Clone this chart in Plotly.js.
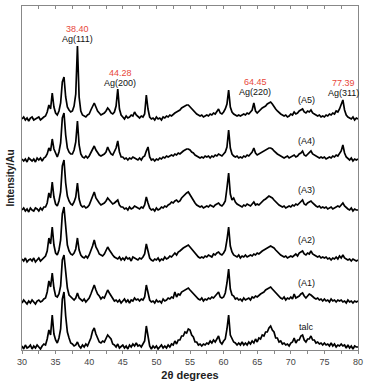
<!DOCTYPE html>
<html>
<head>
<meta charset="utf-8">
<script src="https://cdn.plot.ly/plotly-3.0.1.min.js"></script>
<style>html,body{margin:0;padding:0;background:#fff;}#chart{width:366px;height:382px;}</style>
</head>
<body>
<div id="chart"></div>
<script>
// 2-theta sampling of the patterns (degrees)
const twoThetaStart = 30;
const twoThetaStep = 0.25;

// Series names (bottom to top) and their stacking offsets (arbitrary units)
const seriesNames = ["talc", "(A1)", "(A2)", "(A3)", "(A4)", "(A5)"];
const offsets = [3, 48, 90, 140, 190, 231];

// Intensities, 30..80 deg every 0.25 deg (arbitrary units)
const talc = [
 1,-2,2,-1,0,2,-2,1,-1,2,
 0,-2,1,3,2,8,17,12,32,13,
 7,4,9,18,48,55,31,15,9,4,
 3,1,2,5,1,-1,2,0,3,1,
 5,9,16,19,13,9,5,4,6,5,
 9,12,10,8,3,2,0,3,-1,1,
 2,-1,1,-2,2,0,3,1,4,1,
 2,0,3,6,21,11,1,-2,1,-1,
 1,-2,0,2,-1,1,-1,2,0,3,
 2,6,3,7,7,11,11,15,14,18,
 17,12,10,5,5,2,3,1,3,2,
 4,3,6,4,7,5,8,11,5,3,
 6,8,18,32,12,8,5,4,2,4,
 2,5,2,4,2,5,3,6,4,8,
 5,9,8,12,11,15,15,19,21,17,
 15,9,9,5,6,3,4,2,3,1,
 4,5,9,4,7,7,11,12,7,5,
 8,8,11,7,7,4,5,3,4,2,
 4,2,3,1,4,1,3,0,2,1,
 3,1,2,-1,2,-1,1,-2,1,0,
 0];
const a1 = [
 -1,2,0,-2,1,-1,2,0,-2,1,
 2,0,1,3,4,10,21,15,29,14,
 6,5,8,16,42,47,28,14,7,5,
 3,2,4,9,4,2,1,3,0,2,
 4,8,13,17,12,8,6,3,5,4,
 8,12,9,6,4,1,2,0,2,-1,
 1,3,0,2,-1,2,1,4,2,3,
 1,3,2,5,17,9,2,0,1,-1,
 2,0,1,-1,3,1,2,4,3,5,
 4,10,5,8,7,10,11,12,13,14,
 12,10,8,6,4,3,2,4,1,3,
 2,4,3,5,4,6,7,10,5,4,
 5,9,19,33,13,7,6,3,4,2,
 3,1,4,2,3,4,2,5,4,6,
 5,7,8,9,10,12,13,14,15,13,
 11,9,7,5,4,3,5,2,4,3,
 5,3,8,4,5,6,8,9,6,4,
 6,8,7,5,4,3,4,2,3,1,
 3,1,2,0,3,1,2,0,2,1,
 2,0,1,-1,2,0,1,-1,1,0,
 1];
const a2 = [
 1,-1,2,-2,0,1,-1,2,-2,0,
 2,-1,1,2,4,9,22,16,33,15,
 7,5,10,20,46,53,30,15,9,6,
 5,7,11,22,10,5,3,2,4,2,
 5,9,14,20,13,10,6,5,4,6,
 9,13,10,7,5,3,2,1,3,0,
 2,0,3,1,2,-1,3,2,1,0,
 2,1,3,6,16,8,2,0,-1,1,
 0,2,-1,1,0,3,1,2,4,3,
 5,7,5,8,9,11,12,13,14,15,
 13,11,8,6,5,3,2,3,2,4,
 3,5,4,3,6,5,7,8,6,5,
 7,10,20,33,14,8,5,4,3,5,
 2,4,3,5,3,4,5,4,6,5,
 7,6,8,9,10,11,12,13,14,13,
 12,10,8,6,5,4,3,4,2,3,
 4,3,5,6,4,7,8,9,6,5,
 7,6,9,6,5,4,3,4,2,3,
 2,3,1,2,0,2,1,3,1,4,
 2,5,2,1,0,1,-1,1,0,-1,
 0];
const a3 = [
 0,2,-1,1,-2,2,0,-1,2,1,
 -1,2,0,3,3,7,17,12,28,13,
 6,4,9,18,44,50,27,14,9,6,
 5,8,13,27,11,5,3,4,2,3,
 5,10,15,18,12,9,7,5,6,7,
 9,12,10,8,6,7,9,10,5,3,
 3,1,2,0,3,1,2,4,3,2,
 1,3,2,5,13,7,2,0,1,-1,
 2,0,1,3,2,4,3,5,6,8,
 7,9,10,8,9,12,14,16,17,18,
 15,12,9,7,5,4,3,4,2,3,
 4,3,5,4,3,5,6,7,5,4,
 6,9,22,37,16,10,12,8,6,5,
 4,3,5,4,6,5,4,6,8,5,
 6,5,7,8,10,11,13,14,13,12,
 10,8,6,5,4,3,4,2,3,4,
 3,5,4,6,5,7,8,10,6,5,
 7,8,9,7,5,4,3,4,2,3,
 2,3,1,2,3,1,2,3,4,3,
 5,7,4,2,1,0,2,-1,1,0,
 0];
const a4 = [
 1,-1,1,-2,2,0,-1,1,-2,2,
 0,2,-1,2,3,6,12,9,21,11,
 6,3,8,17,42,47,25,12,8,6,
 6,10,18,39,15,6,3,2,4,2,
 4,7,11,14,10,7,5,4,5,6,
 8,13,9,6,5,8,12,19,8,3,
 3,1,2,0,2,1,3,2,1,0,
 2,0,3,4,9,13,3,0,1,-1,
 1,0,2,1,3,2,4,3,4,5,
 4,6,5,7,6,8,9,10,11,11,
 10,8,7,5,4,3,2,3,2,4,
 3,4,2,4,3,5,4,6,5,4,
 6,8,13,30,12,6,4,3,4,2,
 3,2,4,3,5,4,6,8,12,7,
 5,6,7,8,9,10,11,12,12,11,
 9,7,6,5,4,3,2,3,4,2,
 3,4,5,3,4,6,7,9,5,4,
 6,7,9,6,5,4,3,2,3,2,
 3,1,2,3,2,4,3,5,4,6,
 9,15,7,3,1,0,2,-1,1,0,
 1];
const a5 = [
 0,2,-1,1,-2,1,2,-1,0,1,
 2,-1,1,2,3,7,14,10,26,12,
 6,4,8,16,37,42,22,12,9,7,
 8,13,25,73,22,8,4,3,2,4,
 5,9,13,16,12,8,6,4,5,6,
 8,11,9,6,5,7,13,30,10,4,
 2,0,3,1,2,4,3,7,4,2,
 1,3,2,5,24,10,2,0,1,-1,
 2,0,1,-1,2,1,3,2,4,3,
 5,6,7,8,9,11,12,13,14,14,
 12,10,8,6,5,4,3,4,2,3,
 4,3,5,4,6,5,7,10,6,5,
 7,10,15,29,12,7,5,4,3,4,
 3,4,5,4,6,5,7,9,16,8,
 6,8,9,11,12,13,15,16,17,15,
 12,10,8,6,5,4,3,4,2,3,
 5,4,7,5,6,8,9,10,7,6,
 8,7,9,6,5,4,3,4,2,3,
 2,4,3,5,4,6,5,8,7,10,
 14,19,9,4,2,1,0,2,-1,1,
 0];
const seriesValues = [talc, a1, a2, a3, a4, a5];

// Ag reflections: measured positions and Miller labels
const agPositions = ["38.40", "44.28", "64.45", "77.39"];
const agLabels = ["Ag(111)", "Ag(200)", "Ag(220)", "Ag(311)"];

const FONT = "Liberation Sans, Arial, sans-serif";

const traces = seriesValues.map((vals, k) => ({
  type: "scatter", mode: "lines",
  x0: twoThetaStart, dx: twoThetaStep,
  y: vals.map(v => v + offsets[k]),
  name: seriesNames[k],
  line: {color: "#000000", width: 1.7},
  hoverinfo: "skip"
}));
// carrier for the top axis (ticks only)
traces.push({type: "scatter", mode: "lines", x: [30, 80], y: [0, 0], xaxis: "x2",
  line: {color: "rgba(0,0,0,0)", width: 0}, hoverinfo: "skip", showlegend: false});

// label positions (degrees, units)
const agX = [38.2, 44.6, 64.7, 77.8];
const agYNum = [321, 277, 268, 267];
const annotations = [];
agPositions.forEach((p, i) => {
  annotations.push({x: agX[i], y: agYNum[i], text: p, showarrow: false, xref: "x", yref: "y",
    font: {family: FONT, size: 9, color: "#e8473b"}});
  annotations.push({x: agX[i], y: agYNum[i] - 10, text: agLabels[i], showarrow: false, xref: "x", yref: "y",
    font: {family: FONT, size: 9, color: "#111"}});
});
const nameY = [23, 67, 110, 160, 209, 250];
seriesNames.forEach((n, k) => {
  annotations.push({x: 72.4, y: nameY[k], text: n, showarrow: false, xref: "x", yref: "y",
    font: {family: FONT, size: 9, color: "#111"}});
});

const layout = {
  width: 366, height: 382,
  margin: {l: 22, r: 8, t: 6, b: 32},
  paper_bgcolor: "#fff", plot_bgcolor: "#fff",
  showlegend: false,
  xaxis: {
    range: [30, 80], tick0: 30, dtick: 5,
    ticks: "outside", ticklen: 3, tickcolor: "#888", tickwidth: 1,
    minor: {dtick: 2.5, ticks: "outside", ticklen: 3, tickcolor: "#888"},
    showline: true, linecolor: "#888", linewidth: 1,
    showgrid: false, zeroline: false,
    tickfont: {family: FONT, size: 9, color: "#444"},
    title: {text: "2θ degrees", standoff: 5, font: {family: FONT, size: 11, color: "#222", weight: "bold"}}
  },
  xaxis2: {
    overlaying: "x", side: "top", range: [30, 80], tick0: 30, dtick: 2.5,
    ticks: "inside", ticklen: 3, tickcolor: "#888",
    showticklabels: false, showline: true, linecolor: "#888", linewidth: 1,
    showgrid: false, zeroline: false
  },
  yaxis: {
    range: [0, 344], showticklabels: false, ticks: "",
    showline: true, linecolor: "#888", linewidth: 1, mirror: true,
    showgrid: false, zeroline: false,
    title: {text: "Intensity/Au", standoff: 4, font: {family: FONT, size: 10, color: "#222", weight: "bold"}}
  },
  annotations: annotations
};

Plotly.newPlot("chart", traces, layout, {displayModeBar: false, staticPlot: true});
</script>
</body>
</html>
